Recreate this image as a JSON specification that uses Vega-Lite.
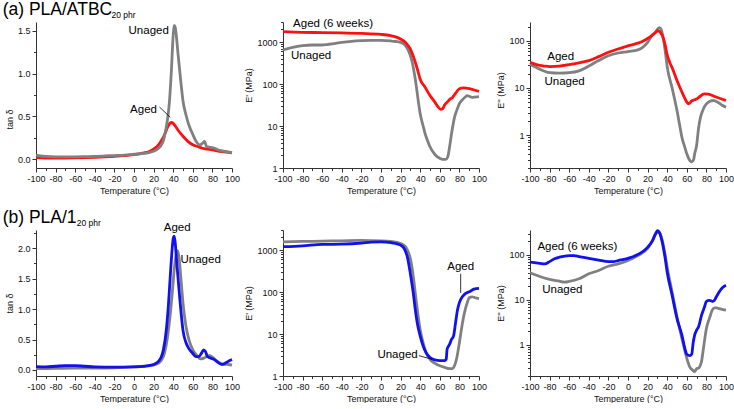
{
"$schema": "https://vega.github.io/schema/vega-lite/v6.json",
"background": "white",
"padding": {"left": 2, "top": 0, "right": 0, "bottom": 0},
"config": {
 "view": {"stroke": null},
 "font": "Liberation Sans",
 "axis": {"domainColor": "#333", "tickColor": "#333", "labelColor": "#111", "titleColor": "#111", "labelFont": "Liberation Sans", "titleFont": "Liberation Sans", "labelFontSize": 9, "titleFontSize": 9, "titleFontWeight": "normal", "grid": false, "labelOverlap": false, "labelFlush": false, "labelPadding": 2, "titlePadding": 3, "tickSize": 4},
 "line": {"strokeWidth": 2.8, "interpolate": "monotone"},
 "text": {"font": "Liberation Sans", "fontSize": 11.5, "color": "#000"}
},
"datasets": {
 "p1": [
  {"s":"U","T":-100,"v":0.05},{"s":"U","T":-95,"v":0.04},{"s":"U","T":-90,"v":0.035},{"s":"U","T":-80,"v":0.03},{"s":"U","T":-70,"v":0.03},{"s":"U","T":-60,"v":0.03},{"s":"U","T":-50,"v":0.032},{"s":"U","T":-40,"v":0.035},{"s":"U","T":-30,"v":0.04},{"s":"U","T":-20,"v":0.045},{"s":"U","T":-10,"v":0.05},{"s":"U","T":0,"v":0.06},{"s":"U","T":10,"v":0.07},{"s":"U","T":15,"v":0.08},{"s":"U","T":20,"v":0.095},{"s":"U","T":25,"v":0.13},{"s":"U","T":28,"v":0.17},{"s":"U","T":30,"v":0.22},{"s":"U","T":32,"v":0.32},{"s":"U","T":34,"v":0.45},{"s":"U","T":36,"v":0.65},{"s":"U","T":38,"v":1.0},{"s":"U","T":40,"v":1.45},{"s":"U","T":41,"v":1.56},{"s":"U","T":42,"v":1.54},{"s":"U","T":43,"v":1.46},{"s":"U","T":45,"v":1.22},{"s":"U","T":48,"v":0.88},{"s":"U","T":50,"v":0.68},{"s":"U","T":53,"v":0.52},{"s":"U","T":56,"v":0.4},{"s":"U","T":60,"v":0.29},{"s":"U","T":64,"v":0.2},{"s":"U","T":67,"v":0.17},{"s":"U","T":70,"v":0.19},{"s":"U","T":72,"v":0.21},{"s":"U","T":74,"v":0.15},{"s":"U","T":78,"v":0.14},{"s":"U","T":82,"v":0.13},{"s":"U","T":86,"v":0.11},{"s":"U","T":90,"v":0.1},{"s":"U","T":95,"v":0.09},{"s":"U","T":100,"v":0.08},
  {"s":"A","T":-100,"v":0.02},{"s":"A","T":-90,"v":0.015},{"s":"A","T":-80,"v":0.015},{"s":"A","T":-60,"v":0.018},{"s":"A","T":-40,"v":0.025},{"s":"A","T":-20,"v":0.035},{"s":"A","T":-10,"v":0.045},{"s":"A","T":0,"v":0.055},{"s":"A","T":10,"v":0.075},{"s":"A","T":15,"v":0.09},{"s":"A","T":20,"v":0.12},{"s":"A","T":25,"v":0.17},{"s":"A","T":28,"v":0.22},{"s":"A","T":30,"v":0.26},{"s":"A","T":32,"v":0.31},{"s":"A","T":34,"v":0.37},{"s":"A","T":36,"v":0.41},{"s":"A","T":38,"v":0.43},{"s":"A","T":40,"v":0.42},{"s":"A","T":42,"v":0.39},{"s":"A","T":45,"v":0.34},{"s":"A","T":50,"v":0.27},{"s":"A","T":55,"v":0.21},{"s":"A","T":60,"v":0.17},{"s":"A","T":65,"v":0.15},{"s":"A","T":70,"v":0.13},{"s":"A","T":80,"v":0.11},{"s":"A","T":90,"v":0.09},{"s":"A","T":100,"v":0.075}
 ],
 "p2": [
  {"s":"A","T":-100,"v":1760},{"s":"A","T":-80,"v":1700},{"s":"A","T":-60,"v":1680},{"s":"A","T":-40,"v":1650},{"s":"A","T":-20,"v":1600},{"s":"A","T":0,"v":1520},{"s":"A","T":10,"v":1420},{"s":"A","T":15,"v":1330},{"s":"A","T":20,"v":1180},{"s":"A","T":25,"v":980},{"s":"A","T":28,"v":800},{"s":"A","T":30,"v":680},{"s":"A","T":33,"v":450},{"s":"A","T":35,"v":330},{"s":"A","T":38,"v":190},{"s":"A","T":40,"v":130},{"s":"A","T":45,"v":84},{"s":"A","T":50,"v":53},{"s":"A","T":55,"v":37},{"s":"A","T":58,"v":29},{"s":"A","T":61,"v":25},{"s":"A","T":63,"v":26},{"s":"A","T":65,"v":32},{"s":"A","T":68,"v":38},{"s":"A","T":70,"v":43},{"s":"A","T":73,"v":48},{"s":"A","T":76,"v":60},{"s":"A","T":80,"v":77},{"s":"A","T":84,"v":81},{"s":"A","T":88,"v":79},{"s":"A","T":92,"v":76},{"s":"A","T":96,"v":71},{"s":"A","T":100,"v":67},
  {"s":"U","T":-100,"v":645},{"s":"U","T":-95,"v":700},{"s":"U","T":-90,"v":750},{"s":"U","T":-80,"v":820},{"s":"U","T":-70,"v":850},{"s":"U","T":-60,"v":850},{"s":"U","T":-55,"v":870},{"s":"U","T":-50,"v":900},{"s":"U","T":-40,"v":980},{"s":"U","T":-30,"v":1040},{"s":"U","T":-20,"v":1075},{"s":"U","T":-10,"v":1095},{"s":"U","T":0,"v":1095},{"s":"U","T":10,"v":1060},{"s":"U","T":15,"v":1030},{"s":"U","T":20,"v":980},{"s":"U","T":25,"v":820},{"s":"U","T":28,"v":620},{"s":"U","T":30,"v":470},{"s":"U","T":32,"v":320},{"s":"U","T":34,"v":180},{"s":"U","T":36,"v":90},{"s":"U","T":38,"v":40},{"s":"U","T":40,"v":19.5},{"s":"U","T":43,"v":10},{"s":"U","T":45,"v":6.6},{"s":"U","T":48,"v":4.2},{"s":"U","T":50,"v":3.2},{"s":"U","T":55,"v":2.1},{"s":"U","T":60,"v":1.7},{"s":"U","T":63,"v":1.6},{"s":"U","T":66,"v":1.6},{"s":"U","T":68,"v":1.8},{"s":"U","T":70,"v":3.2},{"s":"U","T":72,"v":6.6},{"s":"U","T":75,"v":16},{"s":"U","T":78,"v":26},{"s":"U","T":80,"v":34},{"s":"U","T":83,"v":42},{"s":"U","T":86,"v":49},{"s":"U","T":88,"v":53},{"s":"U","T":90,"v":51},{"s":"U","T":93,"v":48},{"s":"U","T":96,"v":49},{"s":"U","T":100,"v":50}
 ],
 "p3": [
  {"s":"A","T":-100,"v":35},{"s":"A","T":-95,"v":32},{"s":"A","T":-90,"v":30},{"s":"A","T":-85,"v":29},{"s":"A","T":-80,"v":28.4},{"s":"A","T":-70,"v":29},{"s":"A","T":-60,"v":31},{"s":"A","T":-50,"v":34},{"s":"A","T":-40,"v":38},{"s":"A","T":-30,"v":46},{"s":"A","T":-20,"v":57},{"s":"A","T":-10,"v":67},{"s":"A","T":0,"v":78},{"s":"A","T":10,"v":89},{"s":"A","T":15,"v":98},{"s":"A","T":20,"v":112},{"s":"A","T":25,"v":132},{"s":"A","T":28,"v":150},{"s":"A","T":30,"v":163},{"s":"A","T":32,"v":158},{"s":"A","T":34,"v":140},{"s":"A","T":36,"v":115},{"s":"A","T":38,"v":80},{"s":"A","T":40,"v":50},{"s":"A","T":43,"v":33},{"s":"A","T":45,"v":27},{"s":"A","T":50,"v":14.4},{"s":"A","T":55,"v":8.2},{"s":"A","T":58,"v":6},{"s":"A","T":60,"v":5},{"s":"A","T":62,"v":4.6},{"s":"A","T":65,"v":5.3},{"s":"A","T":70,"v":5.8},{"s":"A","T":75,"v":7.0},{"s":"A","T":78,"v":7.5},{"s":"A","T":82,"v":7.4},{"s":"A","T":86,"v":6.9},{"s":"A","T":90,"v":6.4},{"s":"A","T":95,"v":5.9},{"s":"A","T":100,"v":5.4},
  {"s":"U","T":-100,"v":32},{"s":"U","T":-95,"v":28},{"s":"U","T":-90,"v":25},{"s":"U","T":-85,"v":22.5},{"s":"U","T":-80,"v":21},{"s":"U","T":-70,"v":20.5},{"s":"U","T":-60,"v":21},{"s":"U","T":-50,"v":23},{"s":"U","T":-40,"v":29},{"s":"U","T":-30,"v":38},{"s":"U","T":-20,"v":48},{"s":"U","T":-10,"v":55},{"s":"U","T":0,"v":59},{"s":"U","T":10,"v":64},{"s":"U","T":15,"v":72},{"s":"U","T":20,"v":92},{"s":"U","T":25,"v":135},{"s":"U","T":28,"v":150},{"s":"U","T":30,"v":175},{"s":"U","T":32,"v":190},{"s":"U","T":34,"v":170},{"s":"U","T":36,"v":110},{"s":"U","T":38,"v":60},{"s":"U","T":40,"v":28},{"s":"U","T":45,"v":10},{"s":"U","T":50,"v":3.3},{"s":"U","T":53,"v":1.5},{"s":"U","T":55,"v":0.9},{"s":"U","T":58,"v":0.55},{"s":"U","T":60,"v":0.4},{"s":"U","T":63,"v":0.29},{"s":"U","T":65,"v":0.27},{"s":"U","T":67,"v":0.3},{"s":"U","T":68,"v":0.4},{"s":"U","T":70,"v":0.6},{"s":"U","T":72,"v":1.4},{"s":"U","T":74,"v":2.4},{"s":"U","T":76,"v":3.2},{"s":"U","T":78,"v":4.0},{"s":"U","T":82,"v":5.0},{"s":"U","T":87,"v":5.4},{"s":"U","T":92,"v":4.9},{"s":"U","T":96,"v":4.3},{"s":"U","T":100,"v":3.9}
 ],
 "p4": [
  {"s":"U","T":-100,"v":0.02},{"s":"U","T":-80,"v":0.025},{"s":"U","T":-60,"v":0.03},{"s":"U","T":-40,"v":0.03},{"s":"U","T":-20,"v":0.035},{"s":"U","T":0,"v":0.05},{"s":"U","T":10,"v":0.06},{"s":"U","T":20,"v":0.08},{"s":"U","T":25,"v":0.11},{"s":"U","T":30,"v":0.22},{"s":"U","T":33,"v":0.42},{"s":"U","T":36,"v":0.77},{"s":"U","T":39,"v":1.26},{"s":"U","T":41,"v":1.64},{"s":"U","T":43,"v":1.89},{"s":"U","T":44.5,"v":1.96},{"s":"U","T":46,"v":1.84},{"s":"U","T":48,"v":1.48},{"s":"U","T":50,"v":1.1},{"s":"U","T":53,"v":0.72},{"s":"U","T":56,"v":0.5},{"s":"U","T":60,"v":0.33},{"s":"U","T":64,"v":0.24},{"s":"U","T":68,"v":0.18},{"s":"U","T":72,"v":0.2},{"s":"U","T":77,"v":0.24},{"s":"U","T":80,"v":0.21},{"s":"U","T":85,"v":0.14},{"s":"U","T":90,"v":0.1},{"s":"U","T":95,"v":0.09},{"s":"U","T":100,"v":0.08},
  {"s":"A","T":-100,"v":0.055},{"s":"A","T":-90,"v":0.05},{"s":"A","T":-80,"v":0.06},{"s":"A","T":-70,"v":0.07},{"s":"A","T":-60,"v":0.07},{"s":"A","T":-50,"v":0.06},{"s":"A","T":-40,"v":0.05},{"s":"A","T":-20,"v":0.045},{"s":"A","T":0,"v":0.05},{"s":"A","T":10,"v":0.06},{"s":"A","T":20,"v":0.09},{"s":"A","T":25,"v":0.14},{"s":"A","T":28,"v":0.22},{"s":"A","T":30,"v":0.33},{"s":"A","T":33,"v":0.66},{"s":"A","T":35,"v":1.04},{"s":"A","T":37,"v":1.54},{"s":"A","T":39,"v":2.0},{"s":"A","T":40,"v":2.16},{"s":"A","T":41,"v":2.2},{"s":"A","T":42,"v":2.1},{"s":"A","T":43,"v":1.9},{"s":"A","T":45,"v":1.5},{"s":"A","T":48,"v":0.95},{"s":"A","T":50,"v":0.65},{"s":"A","T":53,"v":0.45},{"s":"A","T":56,"v":0.35},{"s":"A","T":60,"v":0.27},{"s":"A","T":63,"v":0.22},{"s":"A","T":66,"v":0.22},{"s":"A","T":69,"v":0.28},{"s":"A","T":71,"v":0.33},{"s":"A","T":73,"v":0.3},{"s":"A","T":75,"v":0.22},{"s":"A","T":82,"v":0.17},{"s":"A","T":86,"v":0.12},{"s":"A","T":89,"v":0.09},{"s":"A","T":92,"v":0.1},{"s":"A","T":96,"v":0.14},{"s":"A","T":100,"v":0.17}
 ],
 "p5": [
  {"s":"U","T":-100,"v":1570},{"s":"U","T":-80,"v":1600},{"s":"U","T":-60,"v":1630},{"s":"U","T":-40,"v":1660},{"s":"U","T":-20,"v":1690},{"s":"U","T":0,"v":1660},{"s":"U","T":10,"v":1600},{"s":"U","T":20,"v":1430},{"s":"U","T":25,"v":1200},{"s":"U","T":28,"v":880},{"s":"U","T":30,"v":615},{"s":"U","T":33,"v":228},{"s":"U","T":35,"v":92},{"s":"U","T":38,"v":26},{"s":"U","T":40,"v":12.7},{"s":"U","T":43,"v":6.2},{"s":"U","T":46,"v":3.6},{"s":"U","T":50,"v":2.5},{"s":"U","T":55,"v":2.0},{"s":"U","T":60,"v":1.75},{"s":"U","T":65,"v":1.6},{"s":"U","T":70,"v":1.5},{"s":"U","T":73,"v":1.5},{"s":"U","T":75,"v":1.75},{"s":"U","T":77,"v":2.5},{"s":"U","T":80,"v":6.2},{"s":"U","T":82,"v":12.7},{"s":"U","T":85,"v":31},{"s":"U","T":88,"v":56},{"s":"U","T":90,"v":73},{"s":"U","T":93,"v":77},{"s":"U","T":96,"v":73},{"s":"U","T":100,"v":70},
  {"s":"A","T":-100,"v":1200},{"s":"A","T":-80,"v":1260},{"s":"A","T":-60,"v":1360},{"s":"A","T":-40,"v":1380},{"s":"A","T":-20,"v":1460},{"s":"A","T":-10,"v":1540},{"s":"A","T":0,"v":1570},{"s":"A","T":10,"v":1510},{"s":"A","T":15,"v":1430},{"s":"A","T":20,"v":1310},{"s":"A","T":24,"v":1055},{"s":"A","T":27,"v":670},{"s":"A","T":30,"v":270},{"s":"A","T":33,"v":92},{"s":"A","T":35,"v":37.5},{"s":"A","T":37,"v":18.3},{"s":"A","T":40,"v":8.9},{"s":"A","T":43,"v":5.2},{"s":"A","T":46,"v":3.6},{"s":"A","T":50,"v":2.75},{"s":"A","T":55,"v":2.42},{"s":"A","T":60,"v":2.33},{"s":"A","T":65,"v":2.33},{"s":"A","T":66.5,"v":2.5},{"s":"A","T":67.5,"v":4.4},{"s":"A","T":70,"v":5.7},{"s":"A","T":72,"v":7.5},{"s":"A","T":74,"v":8.9},{"s":"A","T":76,"v":18},{"s":"A","T":78,"v":37},{"s":"A","T":80,"v":56},{"s":"A","T":83,"v":77},{"s":"A","T":86,"v":92},{"s":"A","T":90,"v":101},{"s":"A","T":95,"v":117},{"s":"A","T":100,"v":122}
 ],
 "p6": [
  {"s":"U","T":-100,"v":40},{"s":"U","T":-90,"v":33},{"s":"U","T":-80,"v":28.4},{"s":"U","T":-70,"v":26},{"s":"U","T":-65,"v":24.8},{"s":"U","T":-60,"v":25.7},{"s":"U","T":-50,"v":29.4},{"s":"U","T":-40,"v":38},{"s":"U","T":-30,"v":45},{"s":"U","T":-20,"v":56},{"s":"U","T":-10,"v":63},{"s":"U","T":0,"v":75},{"s":"U","T":10,"v":97},{"s":"U","T":20,"v":140},{"s":"U","T":25,"v":208},{"s":"U","T":28,"v":292},{"s":"U","T":31,"v":328},{"s":"U","T":33,"v":292},{"s":"U","T":35,"v":208},{"s":"U","T":38,"v":97},{"s":"U","T":40,"v":53},{"s":"U","T":45,"v":14.9},{"s":"U","T":50,"v":4.2},{"s":"U","T":55,"v":1.38},{"s":"U","T":60,"v":0.5},{"s":"U","T":63,"v":0.32},{"s":"U","T":66,"v":0.27},{"s":"U","T":68,"v":0.25},{"s":"U","T":70,"v":0.29},{"s":"U","T":72,"v":0.3},{"s":"U","T":75,"v":0.42},{"s":"U","T":77,"v":0.83},{"s":"U","T":80,"v":2.3},{"s":"U","T":83,"v":3.8},{"s":"U","T":86,"v":5.9},{"s":"U","T":88,"v":6.6},{"s":"U","T":90,"v":6.6},{"s":"U","T":95,"v":6.2},{"s":"U","T":100,"v":5.9},
  {"s":"A","T":-100,"v":69},{"s":"A","T":-90,"v":65},{"s":"A","T":-85,"v":63},{"s":"A","T":-80,"v":71},{"s":"A","T":-75,"v":82},{"s":"A","T":-70,"v":89},{"s":"A","T":-60,"v":97},{"s":"A","T":-55,"v":97},{"s":"A","T":-50,"v":92},{"s":"A","T":-40,"v":84},{"s":"A","T":-30,"v":77},{"s":"A","T":-20,"v":71},{"s":"A","T":-15,"v":71},{"s":"A","T":-10,"v":75},{"s":"A","T":0,"v":84},{"s":"A","T":10,"v":102},{"s":"A","T":20,"v":148},{"s":"A","T":25,"v":208},{"s":"A","T":28,"v":292},{"s":"A","T":30,"v":346},{"s":"A","T":32,"v":318},{"s":"A","T":35,"v":191},{"s":"A","T":38,"v":82},{"s":"A","T":40,"v":41},{"s":"A","T":45,"v":12.6},{"s":"A","T":50,"v":3.8},{"s":"A","T":55,"v":1.63},{"s":"A","T":58,"v":0.83},{"s":"A","T":60,"v":0.61},{"s":"A","T":63,"v":0.57},{"s":"A","T":65,"v":0.61},{"s":"A","T":66.5,"v":1.1},{"s":"A","T":68,"v":1.63},{"s":"A","T":70,"v":2.1},{"s":"A","T":72,"v":2.5},{"s":"A","T":75,"v":4.5},{"s":"A","T":78,"v":6.9},{"s":"A","T":80,"v":9.25},{"s":"A","T":83,"v":9.7},{"s":"A","T":86,"v":9.25},{"s":"A","T":88,"v":9.7},{"s":"A","T":90,"v":11.5},{"s":"A","T":93,"v":14.9},{"s":"A","T":96,"v":18.3},{"s":"A","T":100,"v":21}
 ],
 "a1": [{"T":15,"v":1.49,"label":"Unaged"},{"T":9.7,"v":0.57,"label":"Aged"}],
 "r1": [{"T":26,"v":0.61,"T2":37,"v2":0.49}],
 "t1": [{"T":-134,"v":1.682,"label":"(a) PLA/ATBC"}],
 "t1s": [{"T":-23,"v":1.643,"label":"20 phr"}],
 "a2": [{"T":-48.9,"v":2680,"label":"Aged (6 weeks)"},{"T":-71.3,"v":473,"label":"Unaged"}],
 "a3": [{"T":-68.7,"v":44.5,"label":"Aged"},{"T":-64.7,"v":13.1,"label":"Unaged"}],
 "a4": [{"T":44.1,"v":2.34,"label":"Aged"},{"T":68,"v":1.8,"label":"Unaged"}],
 "t4": [{"T":-134,"v":2.42,"label":"(b) PLA/1"}],
 "t4s": [{"T":-58.5,"v":2.366,"label":"20 phr"}],
 "a5": [{"T":81.3,"v":392,"label":"Aged"},{"T":16.9,"v":3.1,"label":"Unaged"}],
 "r5": [{"T":81.3,"v":272,"T2":81.3,"v2":95},{"T":38.7,"v":3.05,"T2":52,"v2":2.5}],
 "a6": [{"T":-51.7,"v":147,"label":"Aged (6 weeks)"},{"T":-67,"v":16.2,"label":"Unaged"}]
},
"columns": 3,
"spacing": {"row": 62, "column": 51},
"bounds": "flush",
"concat": [
 {
  "width": 196, "height": 146,
  "encoding": {
   "x": {"field": "T", "type": "quantitative", "scale": {"domain": [-100, 100], "nice": false, "zero": false}, "axis": {"title": "Temperature (°C)", "values": [-100,-90,-80,-70,-60,-50,-40,-30,-20,-10,0,10,20,30,40,50,60,70,80,90,100], "labelExpr": "datum.value % 20 === 0 ? '' + datum.value : ''", "tickSize": {"condition": {"test": "datum.value % 20 === 0", "value": 4}, "value": 2.5}}},
   "y": {"field": "v", "type": "quantitative", "scale": {"domain": [-0.1, 1.6], "nice": false, "zero": false}, "axis": {"title": "tan δ", "titleY": 97, "values": [0,0.25,0.5,0.75,1,1.25,1.5], "labelExpr": "(datum.value*2) % 1 === 0 ? format(datum.value, '.1f') : ''", "tickSize": {"condition": {"test": "(datum.value*2) % 1 === 0", "value": 4}, "value": 2.5}}}
  },
  "layer": [
   {"data": {"name": "p1"}, "transform": [{"filter": "datum.s == 'A'"}], "mark": {"type": "line", "color": "#ff1010"}},
   {"data": {"name": "p1"}, "transform": [{"filter": "datum.s == 'U'"}], "mark": {"type": "line", "color": "#808080"}},
   {"data": {"name": "r1"}, "mark": {"type": "rule", "color": "#000", "strokeWidth": 0.8}, "encoding": {"x2": {"field": "T2"}, "y2": {"field": "v2"}}},
   {"data": {"name": "a1"}, "mark": {"type": "text", "align": "center", "baseline": "middle"}, "encoding": {"text": {"field": "label"}}},
   {"data": {"name": "t1"}, "mark": {"type": "text", "align": "left", "baseline": "alphabetic", "fontSize": 17.5}, "encoding": {"text": {"field": "label"}}},
   {"data": {"name": "t1s"}, "mark": {"type": "text", "align": "left", "baseline": "alphabetic", "fontSize": 8.5}, "encoding": {"text": {"field": "label"}}}
  ]
 },
 {
  "width": 196, "height": 146,
  "encoding": {
   "x": {"field": "T", "type": "quantitative", "scale": {"domain": [-100, 100], "nice": false, "zero": false}, "axis": {"title": "Temperature (°C)", "values": [-100,-90,-80,-70,-60,-50,-40,-30,-20,-10,0,10,20,30,40,50,60,70,80,90,100], "labelExpr": "datum.value % 20 === 0 ? '' + datum.value : ''", "tickSize": {"condition": {"test": "datum.value % 20 === 0", "value": 4}, "value": 2.5}}},
   "y": {"field": "v", "type": "quantitative", "scale": {"type": "log", "domain": [1, 3000], "nice": false}, "axis": {"title": "E' (MPa)", "titleY": 63, "values": [1,2,3,4,5,6,7,8,9,10,20,30,40,50,60,70,80,90,100,200,300,400,500,600,700,800,900,1000,2000,3000], "labelExpr": "indexof([1,10,100,1000], datum.value) >= 0 ? '' + datum.value : ''", "tickSize": {"condition": {"test": "indexof([1,10,100,1000], datum.value) >= 0", "value": 4}, "value": 2.5}}}
  },
  "layer": [
   {"data": {"name": "p2"}, "transform": [{"filter": "datum.s == 'U'"}], "mark": {"type": "line", "color": "#808080"}},
   {"data": {"name": "p2"}, "transform": [{"filter": "datum.s == 'A'"}], "mark": {"type": "line", "color": "#ff1010"}},
   {"data": {"name": "a2"}, "mark": {"type": "text", "align": "center", "baseline": "middle"}, "encoding": {"text": {"field": "label"}}}
  ]
 },
 {
  "width": 196, "height": 146,
  "encoding": {
   "x": {"field": "T", "type": "quantitative", "scale": {"domain": [-100, 100], "nice": false, "zero": false}, "axis": {"title": "Temperature (°C)", "values": [-100,-90,-80,-70,-60,-50,-40,-30,-20,-10,0,10,20,30,40,50,60,70,80,90,100], "labelExpr": "datum.value % 20 === 0 ? '' + datum.value : ''", "tickSize": {"condition": {"test": "datum.value % 20 === 0", "value": 4}, "value": 2.5}}},
   "y": {"field": "v", "type": "quantitative", "scale": {"type": "log", "domain": [0.2, 250], "nice": false}, "axis": {"title": "E'' (MPa)", "titleY": 68, "values": [0.2,0.3,0.4,0.5,0.6,0.7,0.8,0.9,1,2,3,4,5,6,7,8,9,10,20,30,40,50,60,70,80,90,100,200], "labelExpr": "indexof([1,10,100], datum.value) >= 0 ? '' + datum.value : ''", "tickSize": {"condition": {"test": "indexof([1,10,100], datum.value) >= 0", "value": 4}, "value": 2.5}}}
  },
  "layer": [
   {"data": {"name": "p3"}, "transform": [{"filter": "datum.s == 'U'"}], "mark": {"type": "line", "color": "#808080"}},
   {"data": {"name": "p3"}, "transform": [{"filter": "datum.s == 'A'"}], "mark": {"type": "line", "color": "#ff1010"}},
   {"data": {"name": "a3"}, "mark": {"type": "text", "align": "center", "baseline": "middle"}, "encoding": {"text": {"field": "label"}}}
  ]
 },
 {
  "width": 196, "height": 146,
  "encoding": {
   "x": {"field": "T", "type": "quantitative", "scale": {"domain": [-100, 100], "nice": false, "zero": false}, "axis": {"title": "Temperature (°C)", "values": [-100,-90,-80,-70,-60,-50,-40,-30,-20,-10,0,10,20,30,40,50,60,70,80,90,100], "labelExpr": "datum.value % 20 === 0 ? '' + datum.value : ''", "tickSize": {"condition": {"test": "datum.value % 20 === 0", "value": 4}, "value": 2.5}}},
   "y": {"field": "v", "type": "quantitative", "scale": {"domain": [-0.1, 2.3], "nice": false, "zero": false}, "axis": {"title": "tan δ", "values": [0,0.25,0.5,0.75,1,1.25,1.5,1.75,2,2.25], "labelExpr": "(datum.value*2) % 1 === 0 ? format(datum.value, '.1f') : ''", "tickSize": {"condition": {"test": "(datum.value*2) % 1 === 0", "value": 4}, "value": 2.5}}}
  },
  "layer": [
   {"data": {"name": "p4"}, "transform": [{"filter": "datum.s == 'U'"}], "mark": {"type": "line", "color": "#808080"}},
   {"data": {"name": "p4"}, "transform": [{"filter": "datum.s == 'A'"}], "mark": {"type": "line", "color": "#1010f0"}},
   {"data": {"name": "a4"}, "mark": {"type": "text", "align": "center", "baseline": "middle"}, "encoding": {"text": {"field": "label"}}},
   {"data": {"name": "t4"}, "mark": {"type": "text", "align": "left", "baseline": "alphabetic", "fontSize": 17.5}, "encoding": {"text": {"field": "label"}}},
   {"data": {"name": "t4s"}, "mark": {"type": "text", "align": "left", "baseline": "alphabetic", "fontSize": 8.5}, "encoding": {"text": {"field": "label"}}}
  ]
 },
 {
  "width": 196, "height": 146,
  "encoding": {
   "x": {"field": "T", "type": "quantitative", "scale": {"domain": [-100, 100], "nice": false, "zero": false}, "axis": {"title": "Temperature (°C)", "values": [-100,-90,-80,-70,-60,-50,-40,-30,-20,-10,0,10,20,30,40,50,60,70,80,90,100], "labelExpr": "datum.value % 20 === 0 ? '' + datum.value : ''", "tickSize": {"condition": {"test": "datum.value % 20 === 0", "value": 4}, "value": 2.5}}},
   "y": {"field": "v", "type": "quantitative", "scale": {"type": "log", "domain": [1, 3000], "nice": false}, "axis": {"title": "E' (MPa)", "values": [1,2,3,4,5,6,7,8,9,10,20,30,40,50,60,70,80,90,100,200,300,400,500,600,700,800,900,1000,2000,3000], "labelExpr": "indexof([1,10,100,1000], datum.value) >= 0 ? '' + datum.value : ''", "tickSize": {"condition": {"test": "indexof([1,10,100,1000], datum.value) >= 0", "value": 4}, "value": 2.5}}}
  },
  "layer": [
   {"data": {"name": "p5"}, "transform": [{"filter": "datum.s == 'U'"}], "mark": {"type": "line", "color": "#808080"}},
   {"data": {"name": "p5"}, "transform": [{"filter": "datum.s == 'A'"}], "mark": {"type": "line", "color": "#1010f0"}},
   {"data": {"name": "r5"}, "mark": {"type": "rule", "color": "#000", "strokeWidth": 0.8}, "encoding": {"x2": {"field": "T2"}, "y2": {"field": "v2"}}},
   {"data": {"name": "a5"}, "mark": {"type": "text", "align": "center", "baseline": "middle"}, "encoding": {"text": {"field": "label"}}}
  ]
 },
 {
  "width": 196, "height": 146,
  "encoding": {
   "x": {"field": "T", "type": "quantitative", "scale": {"domain": [-100, 100], "nice": false, "zero": false}, "axis": {"title": "Temperature (°C)", "values": [-100,-90,-80,-70,-60,-50,-40,-30,-20,-10,0,10,20,30,40,50,60,70,80,90,100], "labelExpr": "datum.value % 20 === 0 ? '' + datum.value : ''", "tickSize": {"condition": {"test": "datum.value % 20 === 0", "value": 4}, "value": 2.5}}},
   "y": {"field": "v", "type": "quantitative", "scale": {"type": "log", "domain": [0.2, 360], "nice": false}, "axis": {"title": "E'' (MPa)", "values": [0.2,0.3,0.4,0.5,0.6,0.7,0.8,0.9,1,2,3,4,5,6,7,8,9,10,20,30,40,50,60,70,80,90,100,200,300], "labelExpr": "indexof([1,10,100], datum.value) >= 0 ? '' + datum.value : ''", "tickSize": {"condition": {"test": "indexof([1,10,100], datum.value) >= 0", "value": 4}, "value": 2.5}}}
  },
  "layer": [
   {"data": {"name": "p6"}, "transform": [{"filter": "datum.s == 'U'"}], "mark": {"type": "line", "color": "#808080"}},
   {"data": {"name": "p6"}, "transform": [{"filter": "datum.s == 'A'"}], "mark": {"type": "line", "color": "#1010f0"}},
   {"data": {"name": "a6"}, "mark": {"type": "text", "align": "center", "baseline": "middle"}, "encoding": {"text": {"field": "label"}}}
  ]
 }
]
}
